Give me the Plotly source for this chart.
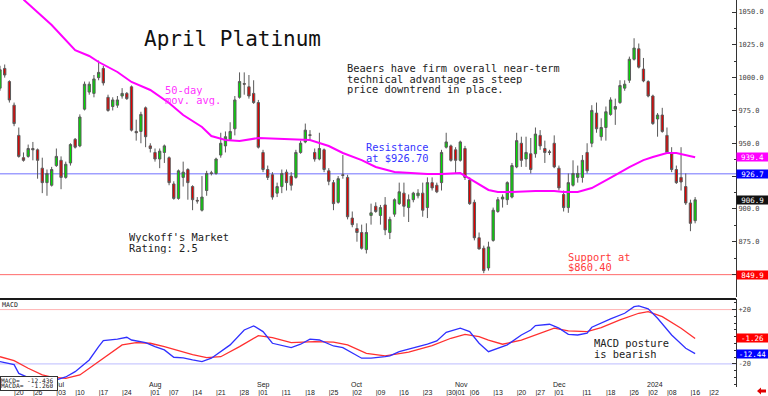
import plotly.graph_objects as go

# ---------------- data ----------------
FIRST_DAY = -3   # trading-day index of the first candle (0 = Jun 20, 2023)
opens = [992, 1007, 997, 979, 956, 939, 940, 946, 945, 931, 920, 918, 933, 937, 924, 935, 953, 948, 976, 989,
         988, 1000, 1007, 985, 978, 979, 986, 988, 993, 959, 959, 977, 948, 943, 938, 943, 939, 919, 908, 924,
         930, 917, 906.5, 899, 914, 927.5, 927, 941, 948, 953, 961, 985, 995.5, 993, 988, 981, 943, 930, 926, 912,
         917, 928, 925, 924, 943, 951, 956.5, 943, 938, 945, 929, 920, 905, 926, 924, 893, 885, 882, 869, 895,
         902, 895, 903, 882, 896, 904, 912, 901, 907, 910, 912, 901, 920, 918, 920, 947, 948, 945, 937, 946,
         922, 905, 878, 870, 855, 876, 898, 907.5, 907, 909, 932, 950, 938, 942, 942, 956, 946, 943.5, 950, 931,
         911, 901, 918, 924, 924, 943, 950, 973, 955, 962, 972, 976, 981, 992, 998, 1014, 1022, 1006.5, 997, 986,
         968.5, 971.5, 956, 942, 930, 924, 917, 904.5, 891]
highs = [1009, 1010, 998, 981, 962, 943, 949, 951, 946, 939, 930, 932, 946, 940, 936, 950, 954, 972, 997, 997,
         1002, 1013, 1009, 987, 985, 986, 992, 989, 994, 968, 974, 978, 950, 946, 946, 949, 940, 921, 930, 936,
         931, 918, 909, 925, 929, 929, 939, 958, 959, 966, 986, 1004, 1004, 1002, 998, 983, 945, 933, 928, 920,
         930, 930, 928, 945, 952, 965, 960, 946, 958, 946, 931, 922, 925, 941, 926, 898, 889, 888, 889, 904,
         905, 903, 909, 894, 908, 920, 920, 911, 913, 915, 920, 924, 924, 920, 945, 958, 949, 947, 952, 948,
         924, 907, 882, 872, 875, 901, 909, 911, 921, 935, 958, 955, 955, 954, 962, 960, 952, 945, 956, 933,
         914, 927, 937, 933, 941, 950, 979, 981, 969, 978, 985, 984, 998, 998, 1016, 1030, 1026, 1015, 998, 987,
         973, 977, 962, 947, 933, 947, 927, 907, 909]
lows = [990, 1000, 981, 963, 939, 936, 939, 937, 923, 912, 910, 917, 932, 915, 923, 933, 946, 947, 975, 987,
        985, 998, 994, 974, 975, 977, 984, 983, 959, 952, 950, 947, 943, 936, 931, 935, 918, 907, 907, 917,
        907, 899, 904, 898, 910, 925.5, 926, 939, 943, 952, 956, 984, 987, 984, 980, 946, 928, 922, 907, 909,
        912, 914, 914, 923, 942, 950, 952, 936, 937, 928, 918, 899, 904, 923, 892, 886, 875, 869, 866, 888,
        897, 888, 880, 877, 894, 903, 894, 890, 905, 908, 894, 893, 914, 912, 914, 946, 936, 927, 936, 922,
        903, 876, 869, 851, 853, 875, 897, 901, 903, 908, 931, 932, 932, 927, 939, 945, 935, 941, 931, 914,
        898, 897, 917, 920, 920, 927, 947, 958, 952, 952, 971, 964, 980, 990, 996, 1013, 1007, 996.5, 985, 964,
        955, 958, 942, 928, 919, 914, 903, 883, 889]
closes = [1006, 1002, 983, 965, 940, 937, 946, 945, 937, 920, 927, 930, 940, 924, 934, 949, 947, 970, 995, 995,
          999, 1004, 996, 975, 983, 983, 988, 984, 960, 958, 972, 955, 946, 938, 944, 948, 920, 908, 929, 928,
          920, 907, 906, 909, 927, 927, 938, 950, 955, 959, 983, 997, 995, 986, 981, 947, 930, 924, 909, 917,
          927, 920, 918, 943, 950, 960, 956, 938, 946, 930, 921, 904, 923, 925.5, 894, 888, 882, 870, 882, 897,
          898, 901, 884, 892, 907, 913, 902, 907, 912, 912, 899, 920, 916, 913, 943, 951, 937, 937, 951, 924,
          904, 878, 869.5, 853, 871, 899, 907, 909, 920, 933, 952, 937, 943, 930, 957, 948, 943, 943, 932, 916,
          901, 920, 927, 927, 937, 929, 975, 961, 962, 974, 983, 978, 994, 995, 1014, 1022.5, 1008, 997.5, 986, 965,
          971.5, 959, 943, 930, 920, 920.5, 904.5, 889, 906.9]
days = list(range(FIRST_DAY, FIRST_DAY + len(opens)))

ma_day = [2, 8, 13, 16, 18, 22, 25, 29, 33, 36, 40, 42, 45, 48, 52, 59, 63, 67, 70, 74, 77, 81, 84, 88, 91,
          95, 96, 99, 101, 103, 106, 111, 115, 117, 120, 123, 125, 128, 131, 134, 136, 139, 141, 143, 145]
ma_val = [1059.5, 1040.1, 1021.0, 1016.5, 1011.9, 1004.3, 996.7, 990.6, 980.7, 971.5, 962.4, 955.5, 952.5, 951.7,
          954.0, 953.2, 952.5, 947.9, 942.6, 937.2, 931.9, 928.1, 927.3, 926.6, 926.6, 927.3, 925.1, 919.0, 914.4,
          912.9, 912.9, 913.6, 913.6, 912.9, 912.9, 915.9, 919.7, 925.8, 931.9, 937.2, 939.5, 942.6, 942.6, 941.1,
          939.4]

macd_day = [-3, 0, 1, 5, 9, 11, 13, 16, 18, 19, 22, 24, 25, 28, 30, 32, 34, 36, 38, 40, 42, 46, 49, 51, 53,
            55, 59, 61, 63, 65, 68, 70, 74, 76, 79, 80, 82, 85, 88, 90, 92, 95, 97, 99, 101, 105, 108, 110, 111,
            114, 116, 118, 120, 122, 123, 127, 130, 132, 133, 135, 137, 140, 143, 145]
macd_val = [-18.3, -20.5, -27.0, -33.0, -31.8, -29.6, -25.7, -17.1, -7.3, -2.9, -1.8, -0.4, -2.4, -4.3, -7.3,
            -9.7, -15.1, -15.6, -17.1, -18.3, -15.8, -6.0, 5.0, 8.0, 3.8, -4.8, -8.0, -5.5, -1.8, -2.4, -6.8,
            -8.0, -15.8, -15.8, -14.7, -14.1, -11.0, -8.5, -5.5, -3.1, 3.3, 6.3, 3.8, -4.8, -11.0, -6.0, 1.3,
            5.0, 8.2, 9.2, 6.3, 1.8, 1.3, 2.6, 7.0, 13.1, 17.3, 22.2, 22.7, 20.5, 13.6, 1.3, -8.5, -12.44]
sig_day = [-3, 0, 3, 6, 8, 11, 14, 17, 20, 23, 26, 29, 32, 35, 38, 41, 44, 48, 52, 55, 59, 64, 68, 71, 75,
           79, 84, 89, 93, 96, 99, 101, 104, 108, 111, 115, 118, 122, 125, 129, 133, 135, 138, 142, 145]
sig_val = [-14.7, -17.6, -23.2, -28.1, -29.8, -30.6, -28.1, -20.8, -13.4, -6.0, -4.3, -4.8, -7.3, -10.5, -13.2,
           -15.3, -14.7, -7.3, 0.8, -0.7, -4.3, -3.6, -4.0, -6.0, -12.2, -14.1, -11.4, -6.6, -1.1, 1.8, 0.1,
           -2.4, -5.5, -2.4, 1.3, 6.3, 4.3, 3.8, 6.7, 12.4, 17.3, 18.5, 14.8, 6.3, -1.26]

RESISTANCE = 926.7
SUPPORT_LINE = 849.9
MA_LAST = 939.4
LAST_CLOSE = 906.9
MACD_LAST = -12.44
SIGNAL_LAST = -1.26
MACD_BOX_VALUES = ("-12.436", "-1.260")
MACD_BANDS = (20, -20)

price_ticks = [850, 875, 900, 925, 950, 975, 1000, 1025, 1050]
hidden_price_ticks = [850, 925]   # covered by the coloured value tags in the reference
date_tick_day = [0, 4, 9, 13, 18, 23, 29, 33, 38, 43, 48, 52, 57, 62, 67, 72, 77, 82, 87, 92, 94, 97, 102,
                 107, 111, 115, 121, 126, 131, 135, 139, 144, 148]
date_tick_text = ["20", "26", "03", "10", "17", "24", "01", "07", "14", "21", "28", "01", "11", "18", "25",
                  "02", "09", "16", "23", "30", "01", "06", "13", "20", "27", "01", "11", "18", "26", "02",
                  "08", "16", "22"]
month_day = [9, 29, 52, 72, 94, 115, 135]
month_text = ["Jul", "Aug", "Sep", "Oct", "Nov", "Dec", "2024"]

# ---------------- layout geometry ----------------
W, H = 768, 396
ML, MR, MT, MB = 0, 32, 0, 9
PLOT_H = H - MT - MB          # 387
X_MIN, X_MAX = -3.0, 153.7
P_MIN, P_MAX = 832.87, 1059.14
M_MIN, M_MAX = -37.0, 27.8
PRICE_DOM = [(PLOT_H - 297) / PLOT_H, 1.0]
MACD_DOM = [0.0, (PLOT_H - 299) / PLOT_H]

PX_PER_DAY = (W - ML - MR) / (X_MAX - X_MIN)


def dx(px):        # horizontal pixel -> day index (for text placement)
    return X_MIN + px / PX_PER_DAY


def dprice(py):    # vertical pixel -> price (text placement)
    return P_MAX - py * (P_MAX - P_MIN) / 297.0


def dmacd(py):
    return M_MAX - (py - 299) * (M_MAX - M_MIN) / (PLOT_H - 299)


def ppy(py):       # vertical pixel -> paper
    return (PLOT_H - py) / PLOT_H


MONO = "DejaVu Sans Mono"
SANS = "Liberation Sans"
GREEN = "#00dd00"
RED = "#e00000"
MAG = "#ff00ff"

fig = go.Figure()
fig.add_trace(go.Candlestick(
    x=days, open=opens, high=highs, low=lows, close=closes,
    increasing=dict(line=dict(color="#5a5a5a", width=1), fillcolor=GREEN),
    decreasing=dict(line=dict(color="#5a5a5a", width=1), fillcolor=RED),
    whiskerwidth=0, xaxis="x", yaxis="y", showlegend=False, hoverinfo="skip"))
fig.add_trace(go.Scatter(x=ma_day, y=ma_val, mode="lines", line=dict(color=MAG, width=2),
                         xaxis="x", yaxis="y", showlegend=False, hoverinfo="skip"))
fig.add_trace(go.Scatter(x=sig_day, y=sig_val, mode="lines", line=dict(color="#ff3030", width=1.3),
                         xaxis="x2", yaxis="y2", showlegend=False, hoverinfo="skip"))
fig.add_trace(go.Scatter(x=macd_day, y=macd_val, mode="lines", line=dict(color="#3030ff", width=1.3),
                         xaxis="x2", yaxis="y2", showlegend=False, hoverinfo="skip"))

shapes = [
    dict(type="line", xref="x domain", yref="y", x0=0, x1=1, y0=RESISTANCE, y1=RESISTANCE,
         line=dict(color="#7070ff", width=1), layer="below"),
    dict(type="line", xref="x domain", yref="y", x0=0, x1=1, y0=SUPPORT_LINE, y1=SUPPORT_LINE,
         line=dict(color="#ff6a6a", width=1), layer="below"),
    dict(type="line", xref="x2 domain", yref="y2", x0=0, x1=1, y0=MACD_BANDS[0], y1=MACD_BANDS[0],
         line=dict(color="#ffb4b4", width=1), layer="below"),
    dict(type="line", xref="x2 domain", yref="y2", x0=0, x1=1, y0=MACD_BANDS[1], y1=MACD_BANDS[1],
         line=dict(color="#bcbcff", width=1), layer="below"),
    dict(type="line", xref="paper", yref="paper", x0=0, x1=1, y0=MACD_DOM[1], y1=MACD_DOM[1],
         line=dict(color="#1a1a1a", width=2)),
    # small red arrow icon in the bottom-right corner
    dict(type="path", xref="paper", yref="paper", fillcolor="#e00000", line=dict(width=0),
         path="M {a},{b} L {c},{d} L {c},{e} L {f},{e} L {f},{g} L {c},{g} L {c},{h} Z".format(
             a=757 / 736, b=ppy(391), c=761 / 736, d=ppy(387.5), e=ppy(389.5), f=766 / 736,
             g=ppy(392.5), h=ppy(394.5))),
]

ann = []


def text(t, px, py, size, color, ref="price", family=MONO, box_h=None):
    d = dict(text=t, xanchor="left", yanchor="middle", showarrow=False, borderpad=0,
             font=dict(family=family, size=size, color=color))
    if box_h is not None:
        d["height"] = box_h
        d["valign"] = "middle"
    if ref == "price":
        d.update(x=dx(px), y=dprice(py), xref="x", yref="y")
    else:
        d.update(x=dx(px), y=dmacd(py), xref="x2", yref="y2")
    ann.append(d)


LH = 10.5  # line pitch of the stacked notes in the reference
text("April Platinum", 143, 38.5, 21, "#111111")
text("Beaers have firm overall near-term", 346, 68.3, 10.4, "#222222", box_h=LH)
text("technical advantage as steep", 346, 79, 10.4, "#222222", box_h=LH)
text("price downtrend in place.", 346, 89.5, 10.4, "#222222", box_h=LH)
text("50-day", 164, 90, 10.4, "#ff33ff", box_h=LH)
text("mov. avg.", 164, 100.3, 10.4, "#ff33ff", box_h=LH)
text("Resistance", 365, 147.5, 10.4, "#3535ff", box_h=LH)
text("at $926.70", 365, 158, 10.4, "#3535ff", box_h=LH)
text("Wyckoff's Market", 128, 237.5, 10.4, "#222222", box_h=LH)
text("Rating: 2.5", 128, 248, 10.4, "#222222", box_h=LH)
text("Support at", 567, 257.5, 10.4, "#ff3b3b", box_h=LH)
text("$860.40", 567, 267.5, 10.4, "#ff3b3b", box_h=LH)
text("MACD posture", 593, 343.3, 10.4, "#222222", ref="macd", box_h=LH)
text("is bearish", 593, 354, 10.4, "#222222", ref="macd", box_h=LH)


def tag(val, yref, bg, fmt):
    ann.append(dict(text=fmt.format(val), x=1.0, xref="paper", xanchor="left", y=val, yref=yref,
                    yanchor="middle", showarrow=False, bgcolor=bg, width=31, height=8, borderpad=0,
                    align="center", font=dict(family=MONO, size=7.5, color="#ffffff")))


tag(MA_LAST, "y", "#ff00ff", "{:.1f}")
tag(RESISTANCE, "y", "#0000ff", "{:.1f}")
tag(LAST_CLOSE, "y", "#111111", "{:.1f}")
tag(SUPPORT_LINE, "y", "#ff0000", "{:.1f}")
tag(SIGNAL_LAST, "y2", "#ff0000", "{:.2f}")
tag(MACD_LAST, "y2", "#0000ff", "{:.2f}")

# month labels along the bottom of the MACD panel
for d, m in zip(month_day, month_text):
    ann.append(dict(text=m, x=d, xref="x2", y=ppy(384.5), yref="paper", xanchor="left", yanchor="middle",
                    xshift=-3, showarrow=False, font=dict(family=SANS, size=7, color="#222222")))

ann.append(dict(text="MACD", x=0, xref="paper", y=ppy(304.5), yref="paper", xanchor="left",
                yanchor="middle", showarrow=False, font=dict(family=MONO, size=6.6, color="#222222")))
# value box (bottom-left)
ann.append(dict(text=" ", x=0, xref="paper", y=ppy(376), yref="paper", xanchor="left", yanchor="top",
                width=56, height=13, bgcolor="#ffffff", bordercolor="#333333", borderwidth=1, borderpad=0,
                showarrow=False, font=dict(size=6)))
ann.append(dict(text="MACD=  " + MACD_BOX_VALUES[0], x=0, xref="paper", y=ppy(379.5), yref="paper",
                xanchor="left", yanchor="middle", showarrow=False, height=6, borderpad=0,
                font=dict(family=MONO, size=6.2, color="#222222")))
ann.append(dict(text="MACDA=  " + MACD_BOX_VALUES[1], x=0, xref="paper", y=ppy(385.3), yref="paper",
                xanchor="left", yanchor="middle", showarrow=False, height=6, borderpad=0,
                font=dict(family=MONO, size=6.2, color="#222222")))

fig.update_layout(
    width=W, height=H, margin=dict(l=ML, r=MR, t=MT, b=MB, pad=0),
    paper_bgcolor="#ffffff", plot_bgcolor="#ffffff", template="none", showlegend=False,
    xaxis=dict(domain=[0, 1], range=[X_MIN, X_MAX], anchor="y", showticklabels=False, showgrid=False,
               zeroline=False, showline=False, ticks="", rangeslider=dict(visible=False), automargin=False),
    xaxis2=dict(domain=[0, 1], range=[X_MIN, X_MAX], anchor="y2", matches="x", showgrid=False,
                zeroline=False, showline=False, ticks="", tickmode="array", tickvals=date_tick_day,
                ticktext=["|" + t for t in date_tick_text], ticklabelposition="outside right", tickangle=0,
                tickfont=dict(family=SANS, size=7, color="#222222"), automargin=False),
    yaxis=dict(domain=PRICE_DOM, range=[P_MIN, P_MAX], anchor="x", side="right", showgrid=False,
               zeroline=False, showline=True, linecolor="#333333", linewidth=1, mirror=False,
               tickmode="array", tickvals=price_ticks,
               ticktext=["" if v in hidden_price_ticks else "{:.1f}".format(v) for v in price_ticks],
               ticks="inside", ticklen=4, tickcolor="#333333",
               minor=dict(tickmode="array", tickvals=[v + 12.5 for v in price_ticks[:-1]], ticks="inside",
                          ticklen=2, tickcolor="#333333"),
               tickfont=dict(family=MONO, size=7, color="#444444"), automargin=False),
    yaxis2=dict(domain=MACD_DOM, range=[M_MIN, M_MAX], anchor="x2", side="right", showgrid=False,
                zeroline=False, showline=True, linecolor="#333333", linewidth=1,
                tickmode="array", tickvals=list(MACD_BANDS), ticktext=["+20", "-20"],
                ticks="inside", ticklen=4, tickcolor="#333333",
                minor=dict(dtick=5, ticks="inside", ticklen=2, tickcolor="#333333"),
                tickfont=dict(family=MONO, size=7, color="#444444"), automargin=False),
    shapes=shapes, annotations=ann,
)

fig.write_html("out.html", config={"displayModeBar": False},
               post_script="document.body.style.margin='0';document.body.style.padding='0';"
                           "document.body.style.overflow='hidden';")
